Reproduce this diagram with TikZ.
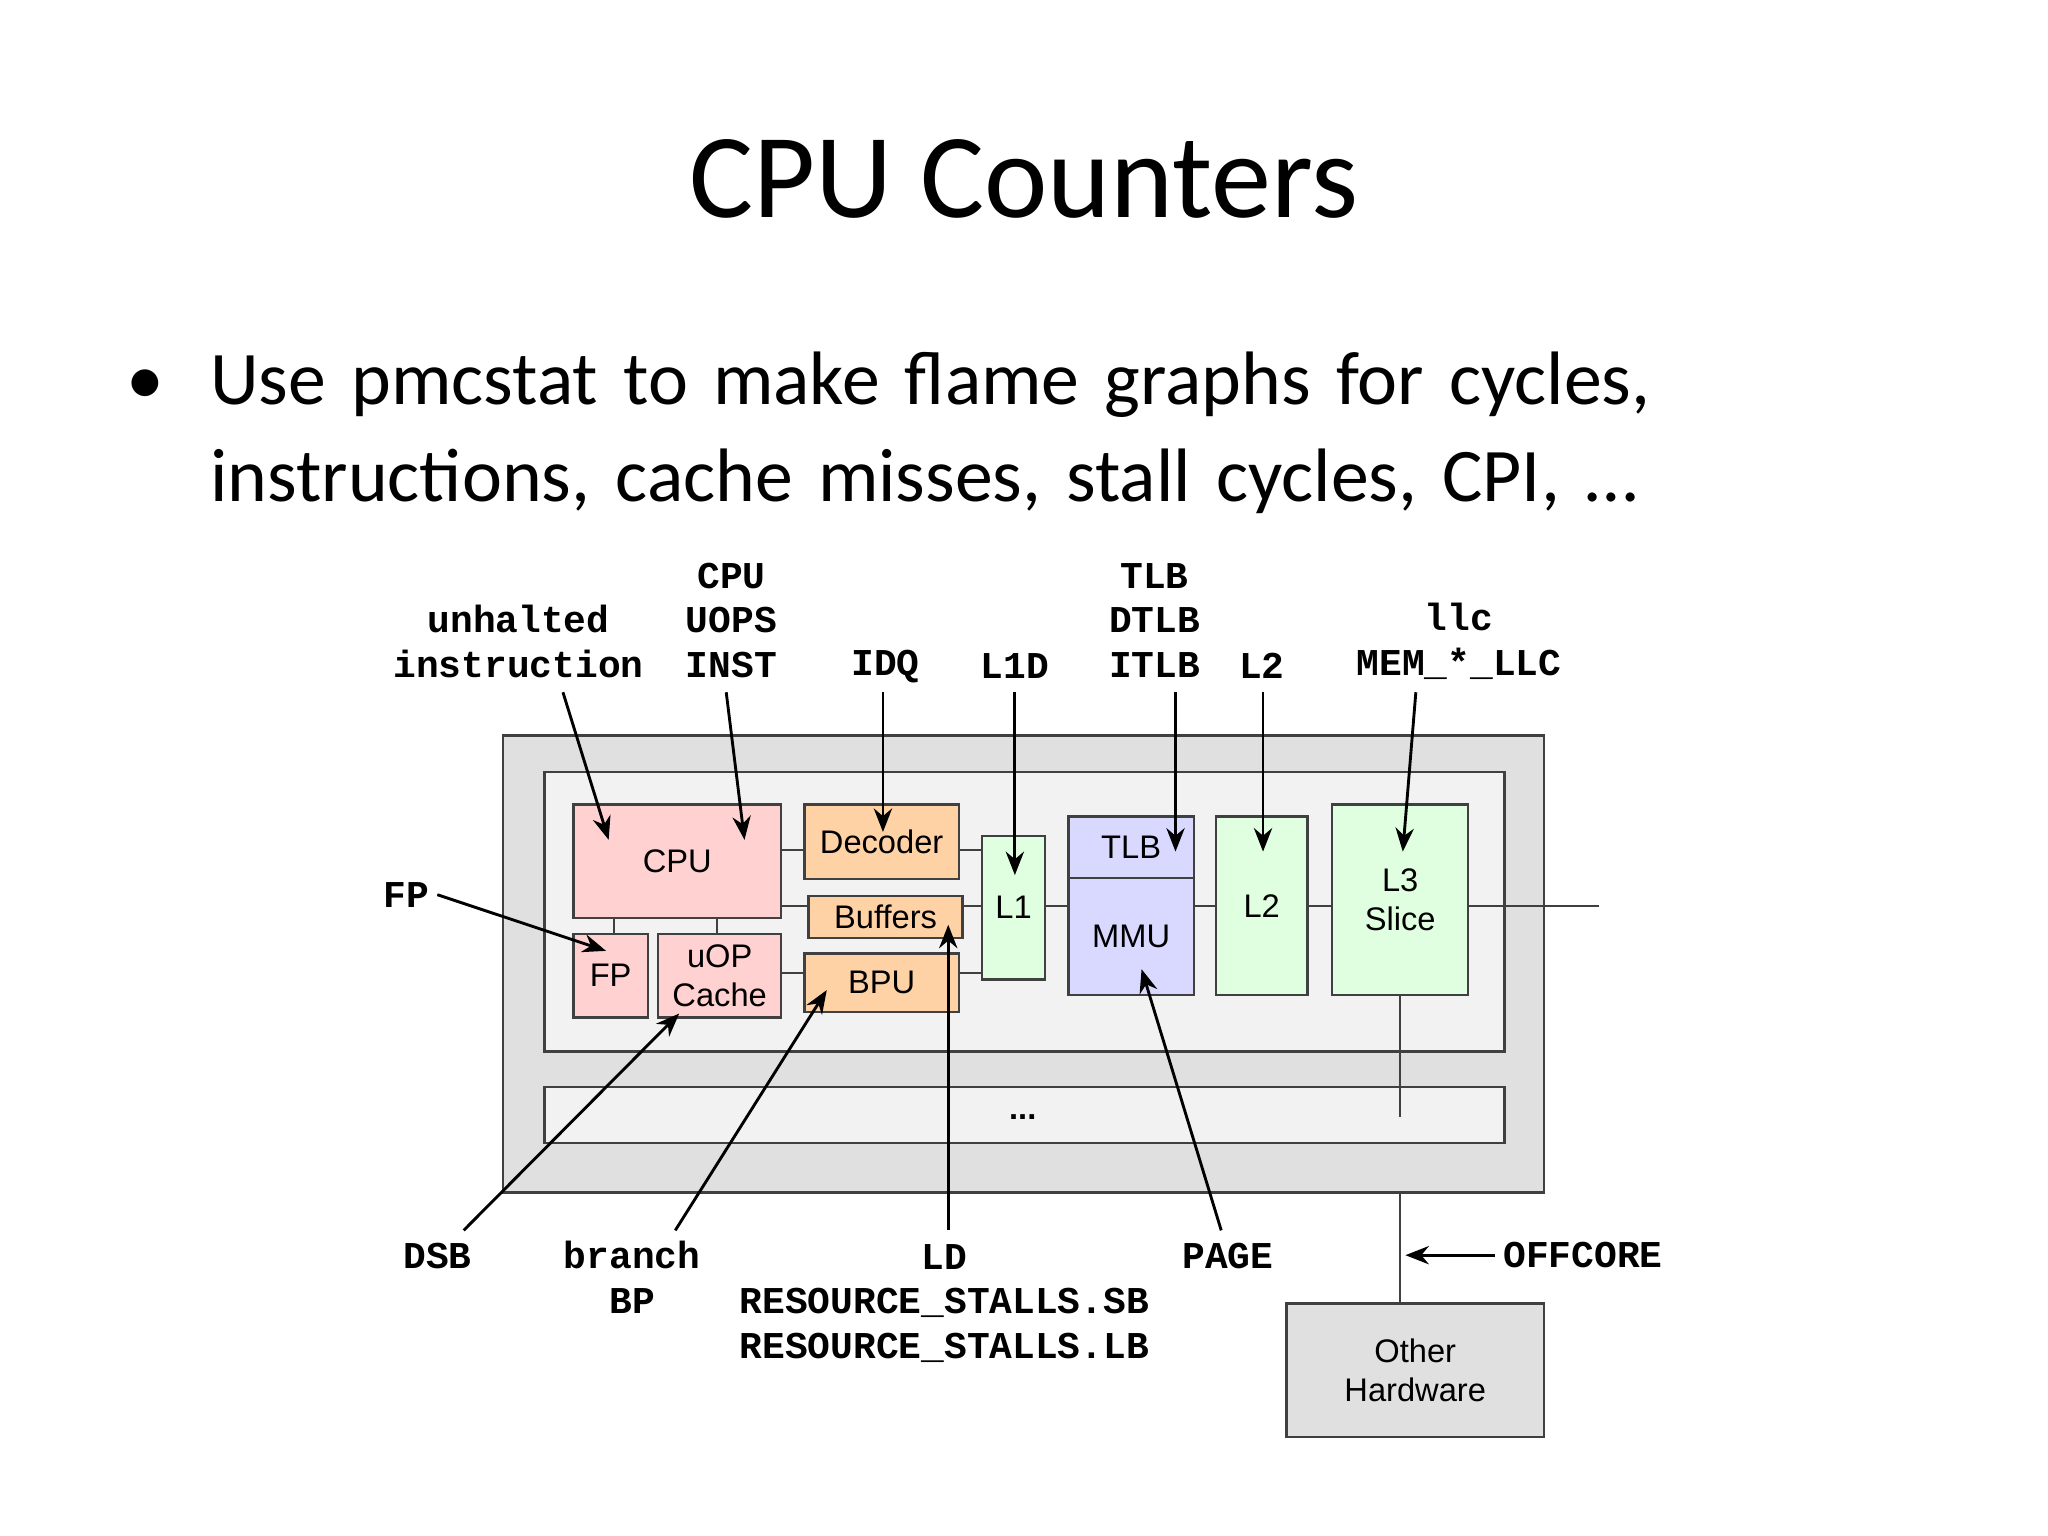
\documentclass[tikz,border=0pt]{standalone}
\usepackage{fontspec}
\setmainfont{Carlito}
\newfontfamily\mymono{Liberation Mono}
\newfontfamily\mysans{Liberation Sans}
\usetikzlibrary{arrows.meta}
\begin{document}
\begin{tikzpicture}[x=0.5pt,y=-0.5pt,
  bx/.style={draw=black!75,line width=0.9pt},
  lab/.style={font=\mysans\fontsize{12.5}{15}\selectfont,align=center},
  ml/.style={font=\mymono\bfseries\fontsize{14.5}{17}\selectfont,align=center,inner sep=0pt},
  ar/.style={line width=1.1pt,-{Stealth[length=9pt,width=7pt]}},
  ln/.style={line width=0.8pt,draw=black!75}]
\useasboundingbox (0,0) rectangle (1568,1176);
\fill[white] (0,0) rectangle (1568,1176);
\node[font=\fontsize{46}{50}\selectfont] (title) at (784,137) {CPU Counters};
\node[font=\fontsize{29}{37.5}\selectfont,anchor=north west,align=left,text width=640pt] (bul) at (90,262)
 {\makebox[32pt][l]{•}Use pmcstat to make flame graphs for cycles,\\\hspace*{32pt}instructions, cache misses, stall cycles, CPI, …};
% boxes
\draw[bx,fill=black!12] (385,563) rectangle (1182,913);
\draw[bx,fill=black!5] (417,591) rectangle (1152,805);
\draw[bx,fill=black!5] (417,832) rectangle (1152,875);
\node[lab] (dots) at (783,855) {\textbf{...}};
\tikzset{pk/.style={bx,fill=red!18},og/.style={bx,fill=orange!35},gr/.style={bx,fill=green!10!lime!8!white},bl/.style={bx,fill=blue!15}}
\draw[ln] (470,703)--(470,715) (549,703)--(549,715) (598,651)--(616,651) (598,694)--(619,694) (598,745)--(616,745)
 (734,651)--(752,651) (737,694)--(752,694) (734,745)--(752,745) (800,694)--(818,694) (914,694)--(931,694)
 (1001,694)--(1020,694) (1124,694)--(1224,694) (1072,762)--(1072,855) (1072,913)--(1072,998);
\draw[pk] (439,616) rectangle (598,703) node[lab,midway] (cpu) {CPU};
\draw[pk] (439,715) rectangle (496,779) node[lab,midway] (fp) {FP};
\draw[pk] (504,715) rectangle (598,779) node[lab,midway] (uop) {uOP\\Cache};
\draw[og] (616,616) rectangle (734,673) node[lab,midway] (dec) {Decoder};
\draw[og] (619,686) rectangle (737,718) node[lab,midway] (buf) {Buffers};
\draw[og] (616,730) rectangle (734,775) node[lab,midway] (bpu) {BPU};
\draw[bx,fill=green!12] (752,640) rectangle (800,750) node[lab,midway] (l1) {L1};
\draw[bl] (818,625) rectangle (914,672) node[lab,midway] (tlb) {TLB};
\draw[bl] (818,672) rectangle (914,762) node[lab,midway] (mmu) {MMU};
\draw[bx,fill=green!12] (931,625) rectangle (1001,762) node[lab,midway] (l2) {L2};
\draw[bx,fill=green!12] (1020,616) rectangle (1124,762) node[lab,midway] (l3) {L3\\Slice};
\draw[bx,fill=black!12] (985,998) rectangle (1182,1100) node[lab,midway] (oh) {Other\\Hardware};
% labels
\node[ml] (t1) at (397,491) {unhalted\\instruction};
\node[ml] (t2) at (560,475) {CPU\\UOPS\\INST};
\node[ml] (t3) at (678,510) {IDQ};
\node[ml] (t4) at (777,510) {L1D};
\node[ml] (t5) at (884,475) {TLB\\DTLB\\ITLB};
\node[ml] (t6) at (966,510) {L2};
\node[ml] (t7) at (1117,491) {llc\\MEM\_*\_LLC};
\node[ml] (t8) at (311,685) {FP};
\node[ml] (t9) at (335,962) {DSB};
\node[ml] (t10) at (484,978) {branch\\BP};
\node[ml] (t11) at (723,998) {LD\\RESOURCE\_STALLS.SB\\RESOURCE\_STALLS.LB};
\node[ml] (t12) at (940,962) {PAGE};
\node[ml] (t13) at (1212,961) {OFFCORE};
\coordinate (e1) at (466,643); \coordinate (e2) at (570,643); \coordinate (e3) at (676,637);
\coordinate (e4) at (777,670); \coordinate (e5) at (900,652); \coordinate (e6) at (967,652);
\coordinate (e7) at (1074,652); \coordinate (e8) at (464,728); \coordinate (e9) at (520,776);
\coordinate (e10) at (633,758); \coordinate (e11) at (726,708); \coordinate (e12) at (874,742);
\coordinate (e13) at (1076,961);
\draw[ar] (431,530)--(e1); \draw[ar] (556,530)--(e2); \draw[ar] (676,530)--(e3);
\draw[ar] (777,530)--(e4); \draw[ar] (900,530)--(e5); \draw[ar] (967,530)--(e6);
\draw[ar] (1084,530)--(e7); \draw[ar] (t8.east)++(6,0)--(e8); \draw[ar] (355,942)--(e9);
\draw[ar] (517,942)--(e10); \draw[ar] (726,942)--(e11); \draw[ar] (935,942)--(e12);
\draw[ar] (t13.west)++(-6,0)--(e13);
\end{tikzpicture}
\end{document}
